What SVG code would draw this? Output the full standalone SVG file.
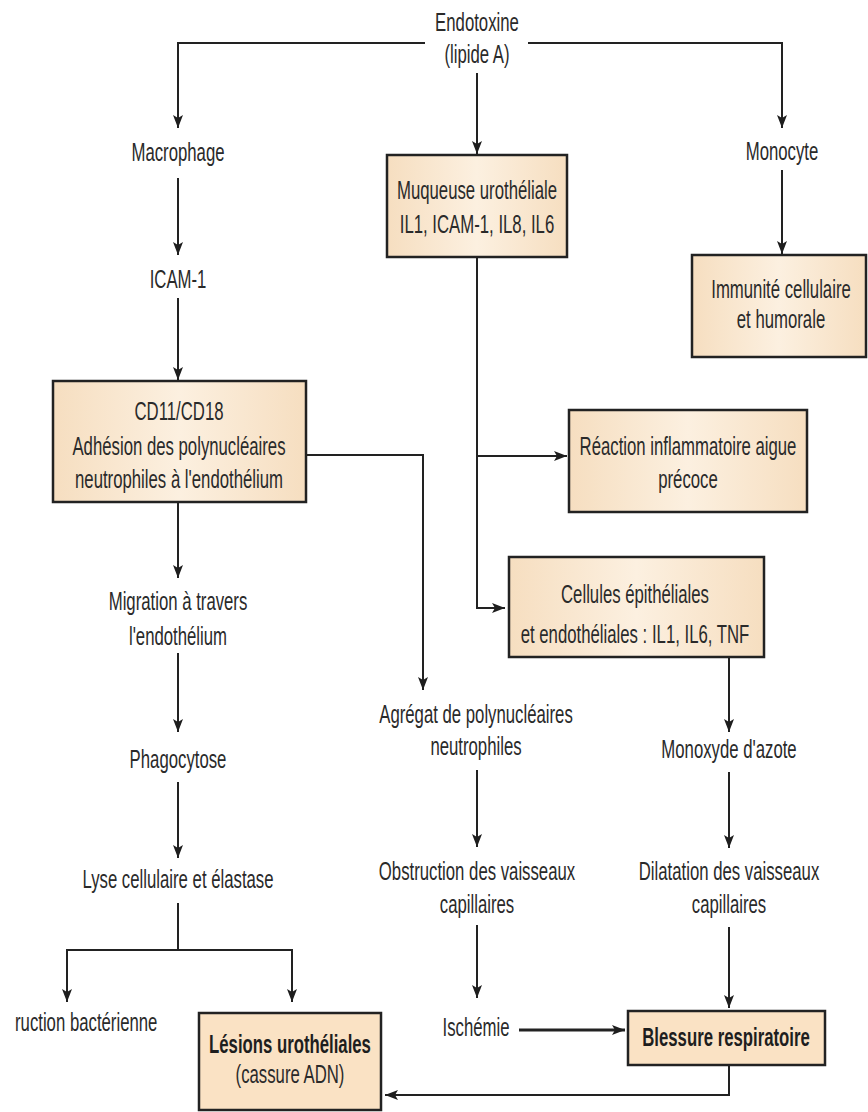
<svg xmlns="http://www.w3.org/2000/svg" width="868" height="1112" viewBox="0 0 868 1112">
<defs>
<linearGradient id="bg" x1="0" y1="0" x2="1" y2="0">
<stop offset="0" stop-color="#f6dec0"/>
<stop offset="0.5" stop-color="#fcf0e0"/>
<stop offset="1" stop-color="#f6dec0"/>
</linearGradient>
<marker id="ah" markerUnits="userSpaceOnUse" markerWidth="14" markerHeight="12" refX="13" refY="5" orient="auto">
<path d="M0,0 L13,5 L0,10 L3,5 z" fill="#1e1e1e"/>
</marker>
<style>
.t{font-family:"Liberation Sans",Arial,sans-serif;font-size:25px;fill:#2a2a2a;text-anchor:middle}
.b{font-weight:bold;fill:#1e1e1e}
.box{fill:url(#bg);stroke:#222;stroke-width:2.5}
.sbox{fill:#fae2c4;stroke:#222;stroke-width:2.5}
.c{fill:none;stroke:#222;stroke-width:2}
.a{marker-end:url(#ah)}
</style>
</defs>
<rect width="868" height="1112" fill="#ffffff"/>

<g id="connectors">
<path class="c a" d="M425,43 H178 V128"/>
<path class="c a" d="M528,43 H782 V128"/>
<path class="c a" d="M477,73 V154"/>
<path class="c a" d="M178,178 V255"/>
<path class="c a" d="M178,298 V380"/>
<path class="c a" d="M306,455 H423 V690"/>
<path class="c a" d="M477,257 V608 H505"/>
<path class="c a" d="M477,456 H567"/>
<path class="c a" d="M782,170 V254"/>
<path class="c a" d="M178,502 V578"/>
<path class="c a" d="M178,653 V732"/>
<path class="c a" d="M178,782 V858"/>
<path class="c" d="M178,903 V950 M67,950 H292"/>
<path class="c a" d="M67,949 V1002"/>
<path class="c a" d="M292,949 V1002"/>
<path class="c a" d="M477,770 V847"/>
<path class="c a" d="M477,925 V998"/>
<path class="c a" d="M519,1030 H625" style="stroke-width:3"/>
<path class="c a" d="M729,657 V732"/>
<path class="c a" d="M729,772 V848"/>
<path class="c a" d="M729,927 V1008"/>
<path class="c a" d="M729,1065 V1095 H385"/>
</g>

<g id="endotoxine">
<text class="t" transform="translate(477,0) scale(0.67,1)"><tspan x="0" y="31">Endotoxine</tspan><tspan x="0" y="63">(lipide A)</tspan></text>
</g>
<g id="macrophage">
<text class="t" transform="translate(178,0) scale(0.67,1)" x="0" y="161">Macrophage</text>
</g>
<g id="icam">
<text class="t" transform="translate(178,0) scale(0.67,1)" x="0" y="288">ICAM-1</text>
</g>
<g id="muqueuse">
<rect class="box" x="387" y="155" width="180" height="102"/>
<text class="t" transform="translate(477,0) scale(0.67,1)"><tspan x="0" y="199">Muqueuse urothéliale</tspan><tspan x="0" y="233">IL1, ICAM-1, IL8, IL6</tspan></text>
</g>
<g id="monocyte">
<text class="t" transform="translate(782,0) scale(0.67,1)" x="0" y="160">Monocyte</text>
</g>
<g id="immunite">
<rect class="box" x="692" y="255" width="174" height="102"/>
<text class="t" transform="translate(781,0) scale(0.67,1)"><tspan x="0" y="298">Immunité cellulaire</tspan><tspan x="0" y="328">et humorale</tspan></text>
</g>
<g id="cd11">
<rect class="box" x="53" y="381" width="253" height="121"/>
<text class="t" transform="translate(179,0) scale(0.67,1)"><tspan x="0" y="420">CD11/CD18</tspan><tspan x="0" y="455">Adhésion des polynucléaires</tspan><tspan x="0" y="488">neutrophiles à l'endothélium</tspan></text>
</g>
<g id="reaction">
<rect class="box" x="569" y="410" width="238" height="102"/>
<text class="t" transform="translate(688,0) scale(0.67,1)"><tspan x="0" y="455">Réaction inflammatoire aigue</tspan><tspan x="0" y="488">précoce</tspan></text>
</g>
<g id="cellules">
<rect class="box" x="509" y="557" width="255" height="100"/>
<text class="t" transform="translate(635,0) scale(0.67,1)"><tspan x="0" y="603">Cellules épithéliales</tspan><tspan x="0" y="643">et endothéliales : IL1, IL6, TNF</tspan></text>
</g>
<g id="migration">
<text class="t" transform="translate(178,0) scale(0.67,1)"><tspan x="0" y="610">Migration à travers</tspan><tspan x="0" y="645">l'endothélium</tspan></text>
</g>
<g id="phagocytose">
<text class="t" transform="translate(178,0) scale(0.67,1)" x="0" y="768">Phagocytose</text>
</g>
<g id="lyse">
<text class="t" transform="translate(178,0) scale(0.67,1)" x="0" y="888">Lyse cellulaire et élastase</text>
</g>
<g id="destruction">
<text class="t" transform="translate(15,0) scale(0.67,1)" x="0" y="1031" style="text-anchor:start">ruction bactérienne</text>
</g>
<g id="lesions">
<rect class="sbox" x="199" y="1013" width="182" height="97"/>
<text class="t" transform="translate(290,0) scale(0.67,1)"><tspan x="0" y="1053" class="b">Lésions urothéliales</tspan><tspan x="0" y="1083">(cassure ADN)</tspan></text>
</g>
<g id="agregat">
<text class="t" transform="translate(476,0) scale(0.67,1)"><tspan x="0" y="723">Agrégat de polynucléaires</tspan><tspan x="0" y="755">neutrophiles</tspan></text>
</g>
<g id="obstruction">
<text class="t" transform="translate(477,0) scale(0.67,1)"><tspan x="0" y="880">Obstruction des vaisseaux</tspan><tspan x="0" y="913">capillaires</tspan></text>
</g>
<g id="ischemie">
<text class="t" transform="translate(476,0) scale(0.67,1)" x="0" y="1036">Ischémie</text>
</g>
<g id="monoxyde">
<text class="t" transform="translate(729,0) scale(0.67,1)" x="0" y="758">Monoxyde d'azote</text>
</g>
<g id="dilatation">
<text class="t" transform="translate(729,0) scale(0.67,1)"><tspan x="0" y="880">Dilatation des vaisseaux</tspan><tspan x="0" y="913">capillaires</tspan></text>
</g>
<g id="blessure">
<rect class="sbox" x="628" y="1011" width="197" height="54"/>
<text class="t b" transform="translate(726,0) scale(0.67,1)" x="0" y="1046">Blessure respiratoire</text>
</g>
</svg>
